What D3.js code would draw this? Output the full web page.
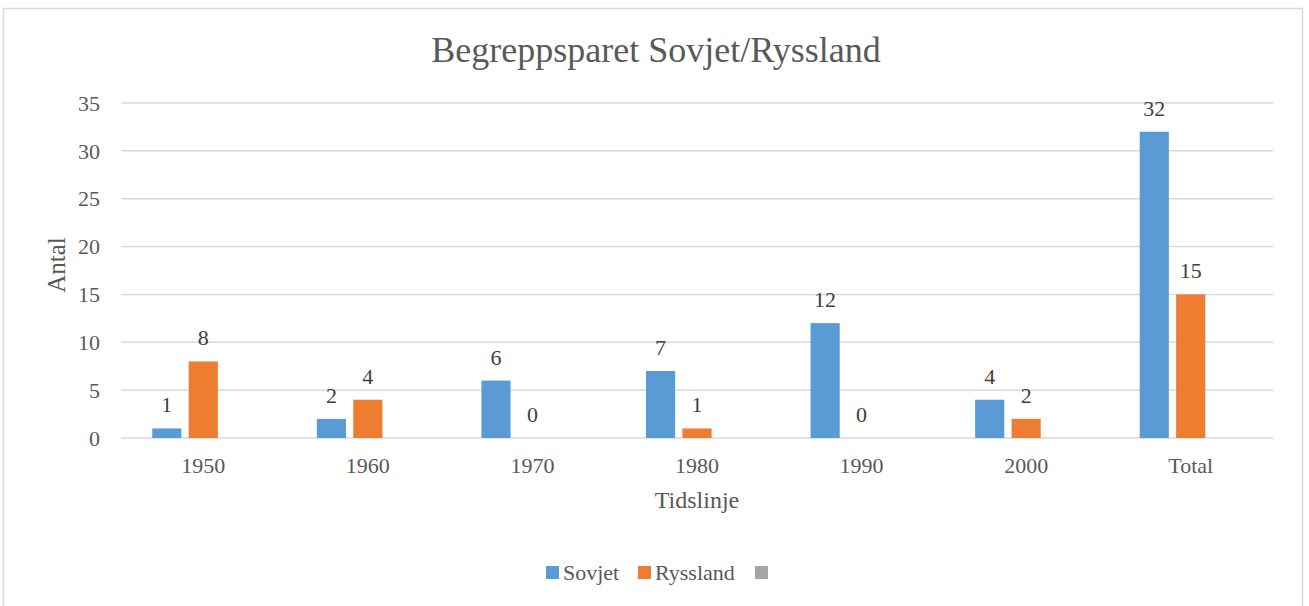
<!DOCTYPE html>
<html>
<head>
<meta charset="utf-8">
<title>Begreppsparet Sovjet/Ryssland</title>
<script src="https://d3js.org/d3.v7.min.js"></script>
<style>
  body { margin: 0; background: #fff; }
  text { font-family: "Liberation Serif", "DejaVu Serif", serif; }
</style>
</head>
<body>
<div id="chart"></div>
<script>
// data
var categories = ["1950", "1960", "1970", "1980", "1990", "2000", "Total"];
var seriesNames = ["Sovjet", "Ryssland", ""];
var sovjet = [1, 2, 6, 7, 12, 4, 32];
var ryssland = [8, 4, 0, 1, 0, 2, 15];
var yTicks = [0, 5, 10, 15, 20, 25, 30, 35];
var colors = ["#5b9bd5", "#ed7d31", "#a5a5a5"];

var W = 1309, H = 606;
var margin = {top: 103, right: 36, bottom: 168, left: 121};
var width = W - margin.left - margin.right,
    height = H - margin.top - margin.bottom;

var svg = d3.select("#chart").append("svg")
  .attr("width", W)
  .attr("height", H);

// outer chart border
svg.append("rect")
  .attr("x", 3.5).attr("y", 8.5)
  .attr("width", 1299).attr("height", 640)
  .attr("fill", "none")
  .attr("stroke", "#d9d9d9")
  .attr("stroke-width", 1.5);

svg.append("text")
  .attr("x", 656).attr("y", 62)
  .attr("text-anchor", "middle")
  .attr("fill", "#595959")
  .style("font-size", "36px")
  .text("Begreppsparet Sovjet/Ryssland");

var g = svg.append("g")
  .attr("transform", "translate(" + margin.left + "," + margin.top + ")");

var x0 = d3.scaleBand()
  .domain(categories)
  .range([0, width])
  .paddingInner(0.38)
  .paddingOuter(0.19);

var x1 = d3.scaleBand()
  .domain(seriesNames.map(function(d, i) { return i; }))
  .range([0, x0.bandwidth()])
  .paddingInner(0.2);

var y = d3.scaleLinear()
  .domain([0, 35])
  .range([height, 0]);

// gridlines
g.selectAll(".grid")
  .data(yTicks)
  .enter().append("line")
  .attr("x1", 0).attr("x2", width)
  .attr("y1", function(d) { return y(d); })
  .attr("y2", function(d) { return y(d); })
  .attr("stroke", "#d9d9d9")
  .attr("stroke-width", 1.5);

// y tick labels
g.selectAll(".ytick")
  .data(yTicks)
  .enter().append("text")
  .attr("x", -21)
  .attr("y", function(d) { return y(d); })
  .attr("dy", "0.35em")
  .attr("text-anchor", "end")
  .attr("fill", "#595959")
  .style("font-size", "22px")
  .text(function(d) { return d; });

// x tick labels
g.selectAll(".xtick")
  .data(categories)
  .enter().append("text")
  .attr("x", function(d) { return x0(d) + x0.bandwidth() / 2; })
  .attr("y", height + 35)
  .attr("text-anchor", "middle")
  .attr("fill", "#595959")
  .style("font-size", "22px")
  .text(function(d) { return d; });

var rows = categories.map(function(c, i) {
  return {cat: c, vals: [sovjet[i], ryssland[i]]};
});

var groups = g.selectAll(".grp")
  .data(rows)
  .enter().append("g")
  .attr("transform", function(d) { return "translate(" + x0(d.cat) + ",0)"; });

groups.selectAll("rect")
  .data(function(d) { return d.vals; })
  .enter().append("rect")
  .attr("x", function(d, i) { return x1(i); })
  .attr("y", function(d) { return y(d); })
  .attr("width", x1.bandwidth())
  .attr("height", function(d) { return height - y(d); })
  .attr("fill", function(d, i) { return colors[i]; });

groups.selectAll(".lbl")
  .data(function(d) { return d.vals; })
  .enter().append("text")
  .attr("x", function(d, i) { return x1(i) + x1.bandwidth() / 2; })
  .attr("y", function(d) { return y(d) - 16; })
  .attr("text-anchor", "middle")
  .attr("fill", "#404040")
  .style("font-size", "22px")
  .text(function(d) { return d; });

// axis titles
svg.append("text")
  .attr("transform", "translate(65,265) rotate(-90)")
  .attr("text-anchor", "middle")
  .attr("fill", "#595959")
  .style("font-size", "25px")
  .text("Antal");

svg.append("text")
  .attr("x", margin.left + width / 2)
  .attr("y", 508)
  .attr("text-anchor", "middle")
  .attr("fill", "#595959")
  .style("font-size", "24px")
  .text("Tidslinje");

// legend
var legendX = [546, 638, 755];
var leg = svg.selectAll(".leg")
  .data(seriesNames)
  .enter().append("g")
  .attr("transform", function(d, i) { return "translate(" + legendX[i] + ",566)"; });

leg.append("rect")
  .attr("width", 13).attr("height", 13)
  .attr("fill", function(d, i) { return colors[i]; });

leg.append("text")
  .attr("x", 17).attr("y", 14)
  .attr("fill", "#595959")
  .style("font-size", "22px")
  .text(function(d) { return d; });
</script>
</body>
</html>
